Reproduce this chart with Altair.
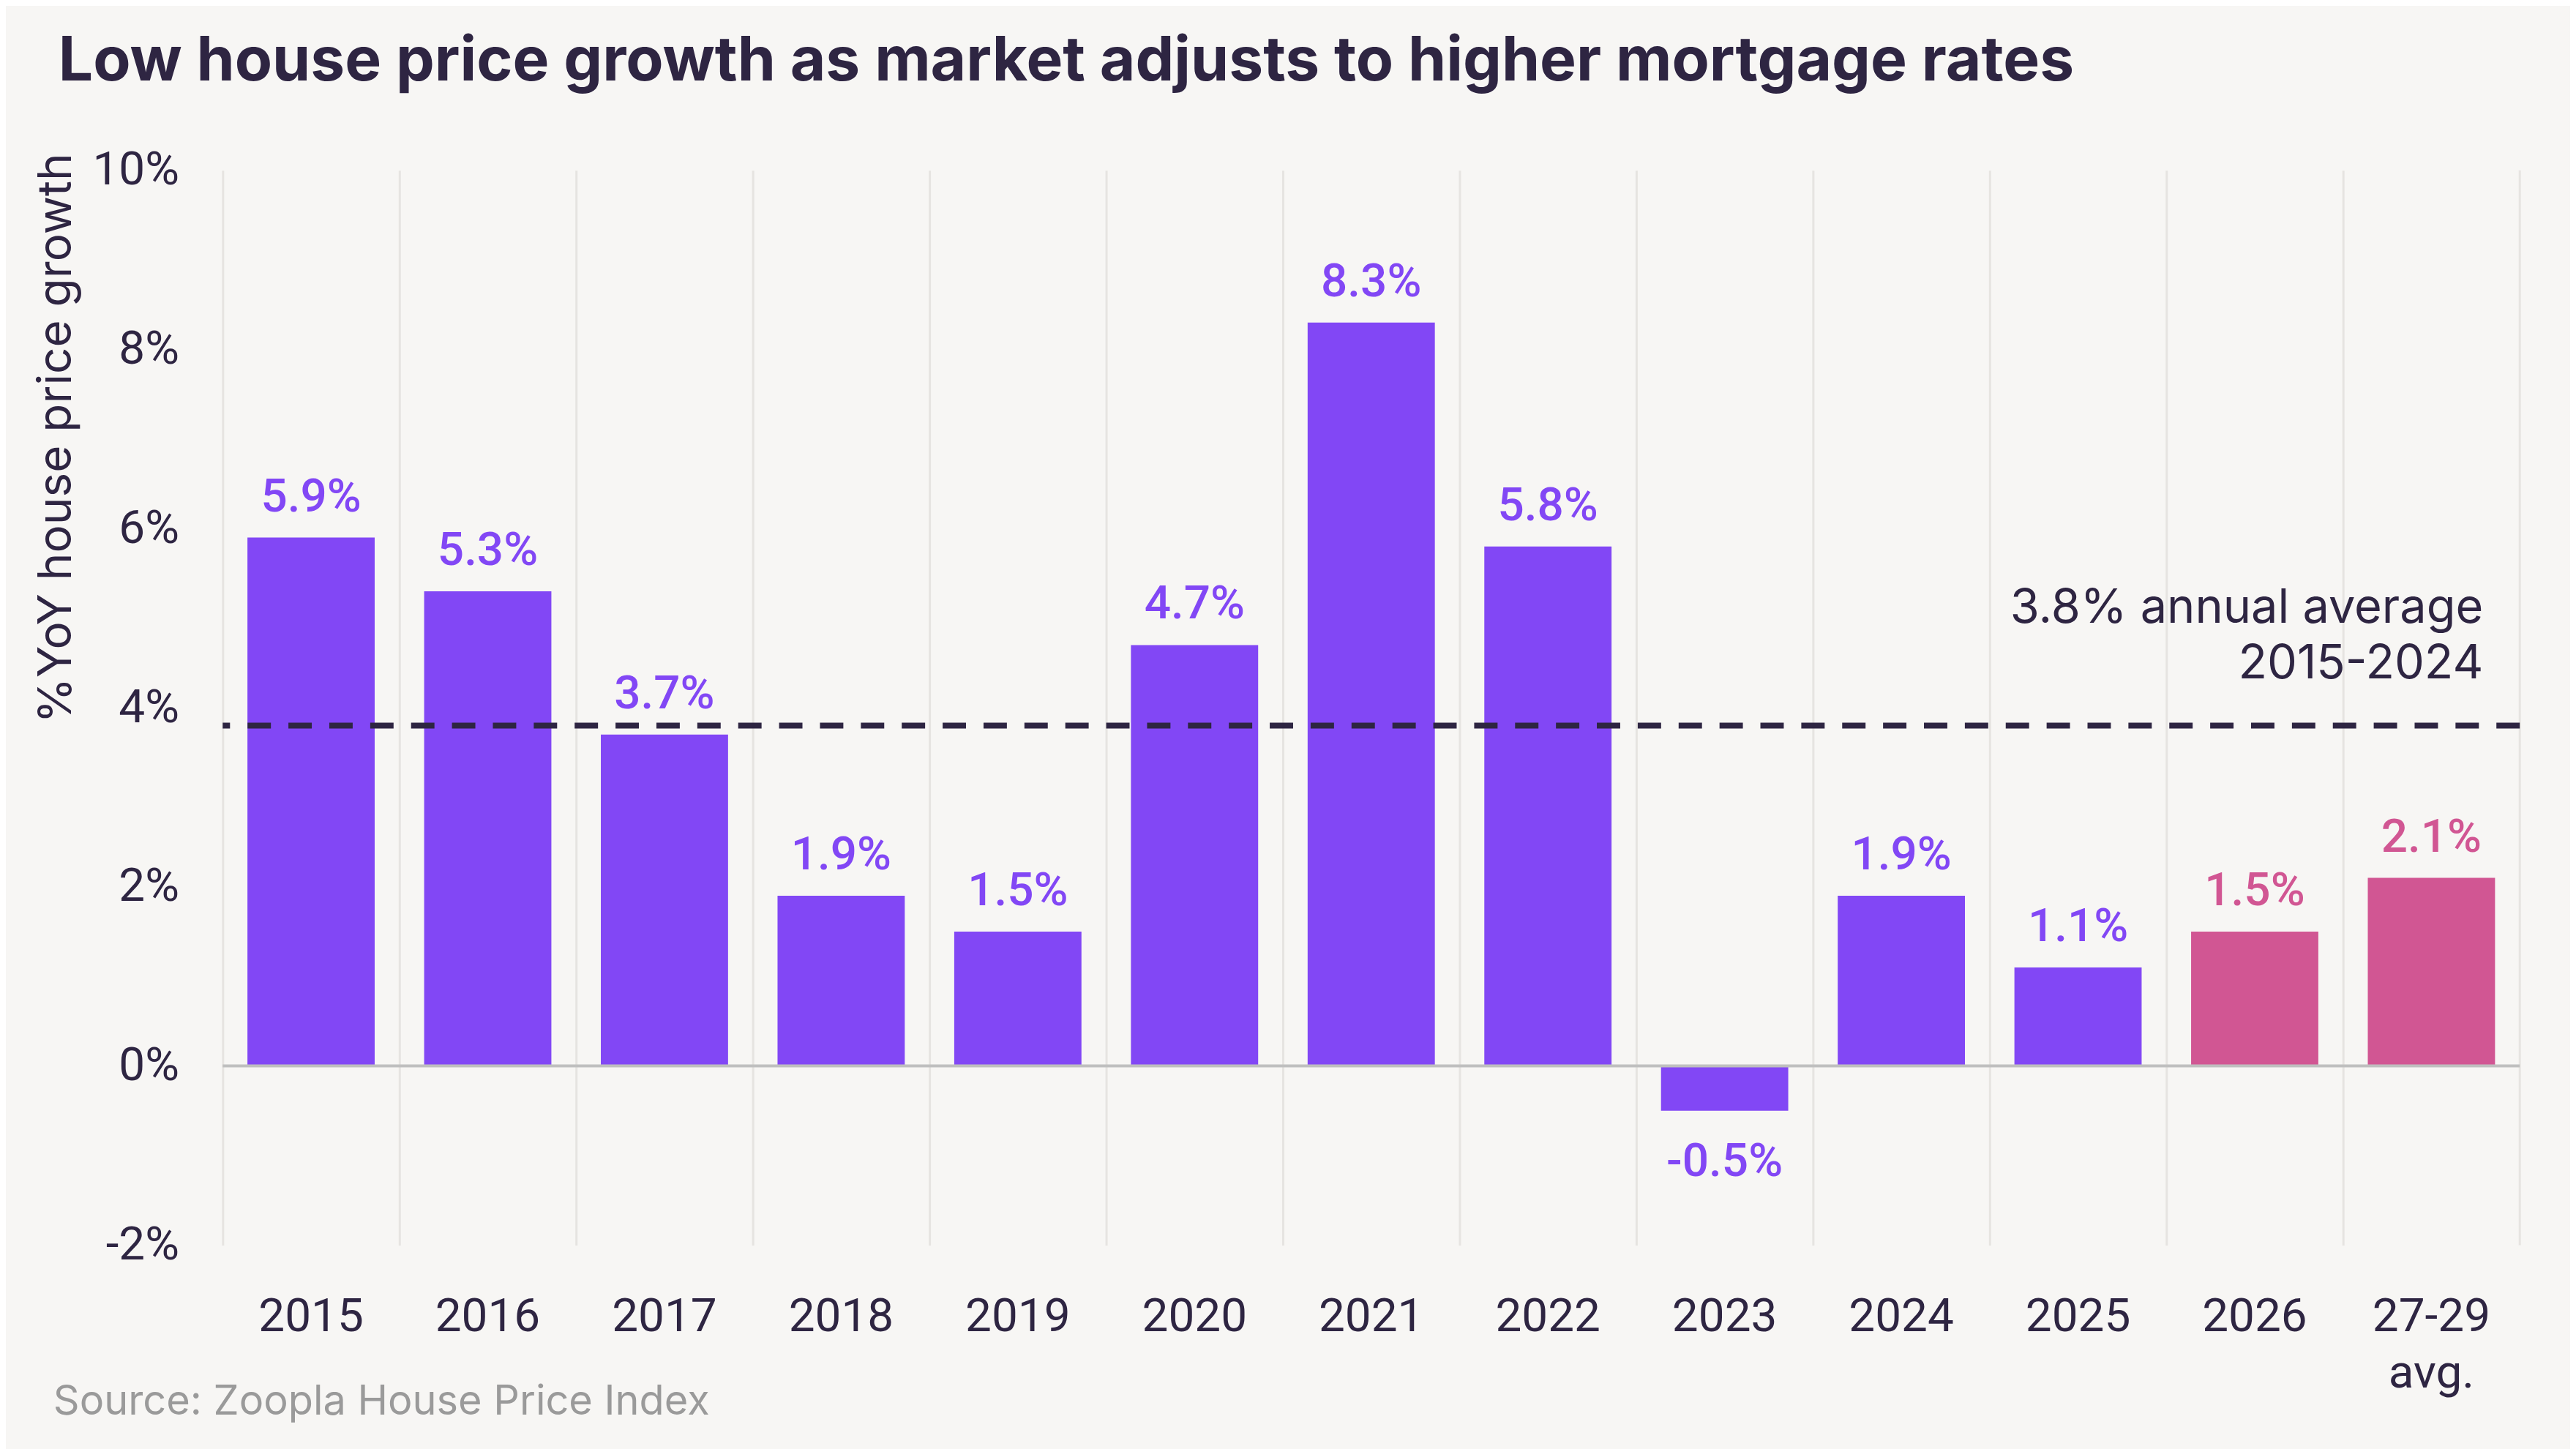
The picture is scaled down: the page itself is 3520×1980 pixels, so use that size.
import altair as alt
import pandas as pd

categories = ["2015", "2016", "2017", "2018", "2019", "2020", "2021", "2022",
              "2023", "2024", "2025", "2026", "27-29 avg."]
values = [5.9, 5.3, 3.7, 1.9, 1.5, 4.7, 8.3, 5.8, -0.5, 1.9, 1.1, 1.5, 2.1]
series_type = ["Actual"] * 11 + ["Forecast"] * 2
average_value = [3.8]
average_label = ["3.8% annual average", "2015-2024"]
y_ticks = [-2, 0, 2, 4, 6, 8, 10]
title_text = "Low house price growth as market adjusts to higher mortgage rates"
source_text = "Source: Zoopla House Price Index"

df = pd.DataFrame({"year": categories, "growth": values, "type": series_type})
df["label"] = [f"{v:.1f}%" for v in values]
df_avg = pd.DataFrame({"growth": average_value})
df_zero = pd.DataFrame({"growth": [0]})
df_one = pd.DataFrame({"k": [0]})

W, H = 3146, 1472
DARK = "#2E2542"
PURPLE = "#8247F5"
PINK = "#D15693"
GRID = "#E6E4E1"
ZERO = "#BFBFBF"
GRAY = "#9A9A9A"
BG = "#F7F6F4"
FONT = "Roboto"
TFONT = "Inter"

x_enc = alt.X(
    "year:N", sort=categories,
    scale=alt.Scale(paddingInner=0, paddingOuter=0),
    axis=alt.Axis(title=None, labelExpr="split(datum.label, ' ')", labelAngle=0,
                  labelFontSize=64, labelColor=DARK, labelPadding=66,
                  labelLineHeight=78, labelBaseline="top", domain=False, ticks=False,
                  grid=True, gridColor=GRID, gridWidth=3, bandPosition=0),
)
y_enc = alt.Y(
    "growth:Q", scale=alt.Scale(domain=[-2, 10], nice=False),
    axis=alt.Axis(values=y_ticks, labelExpr="datum.value + '%'",
                  title="%YoY house price growth", titleAnchor="end", titleY=-24,
                  titleAlign="right", titlePadding=16, titleFontSize=64,
                  titleFont=TFONT, titleFontWeight="normal", titleColor=DARK,
                  grid=False, domain=False, ticks=False, labelPadding=60,
                  labelFontSize=64, labelColor=DARK),
)
color_enc = alt.Color("type:N", scale=alt.Scale(domain=["Actual", "Forecast"],
                                                range=[PURPLE, PINK]), legend=None)

bars = alt.Chart(df).mark_bar(width=alt.RelativeBandSize(0.72)).encode(
    x=x_enc, y=y_enc, color=color_enc)

pos_labels = alt.Chart(df).transform_filter("datum.growth >= 0").mark_text(
    baseline="alphabetic", dy=-36, fontSize=64, fontWeight=500, font=FONT
).encode(x=x_enc, y=y_enc, text="label:N", color=color_enc)

neg_labels = alt.Chart(df).transform_filter("datum.growth < 0").mark_text(
    baseline="alphabetic", dy=89, fontSize=64, fontWeight=500, font=FONT
).encode(x=x_enc, y=y_enc, text="label:N", color=color_enc)

zero_rule = alt.Chart(df_zero).mark_rule(color=ZERO, strokeWidth=4).encode(y="growth:Q")

avg_rule = alt.Chart(df_avg).mark_rule(color=DARK, strokeWidth=8,
                                       strokeDash=[32, 24]).encode(y="growth:Q")

avg_text = alt.Chart(df_avg).mark_text(
    text=average_label, align="right", baseline="alphabetic", dy=-141,
    lineHeight=76, fontSize=65, color=DARK, font=TFONT
).encode(y="growth:Q", x=alt.value(W - 50))

edge_grid = alt.Chart(df_one).mark_rule(color=GRID, strokeWidth=3).encode(
    x=alt.value(W), y=alt.value(0), y2=alt.value(H))

source = alt.Chart(df_one).mark_text(
    text=source_text, align="left", baseline="alphabetic", fontSize=56,
    color=GRAY, font=TFONT
).encode(x=alt.value(-232), y=alt.value(1704))

chart = alt.layer(
    edge_grid, bars, zero_rule, avg_rule, pos_labels, neg_labels, avg_text, source
).properties(
    width=W, height=H,
    title=alt.TitleParams(title_text, anchor="start", frame="group", dx=-225,
                          fontSize=84, fontWeight="bold", color=DARK, font=TFONT,
                          baseline="alphabetic", offset=7),
    autosize=alt.AutoSizeParams(type="none"),
    padding={"left": 297, "top": 223, "right": 69, "bottom": 277},
).configure(
    background=BG, font=FONT
).configure_view(stroke=None).configure_axis(labelFont=FONT)

chart.save("out.html", embed_options={"renderer": "svg", "actions": False})
